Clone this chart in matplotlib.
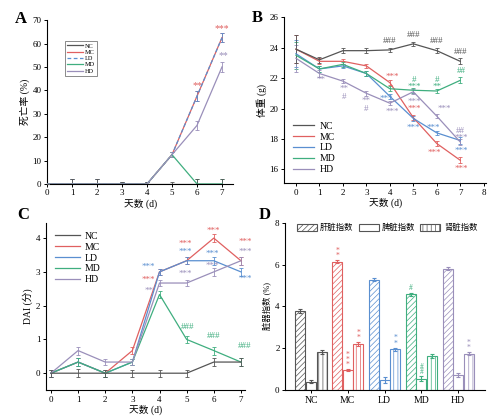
import matplotlib.pyplot as plt
from matplotlib.patches import Patch
from matplotlib.lines import Line2D

plt.rcParams['font.family'] = ['Liberation Serif', 'Noto Sans CJK SC']
plt.rcParams['font.size'] = 6.5
plt.rcParams['axes.linewidth'] = 0.8
plt.rcParams['hatch.linewidth'] = 0.5
plt.rcParams['xtick.major.size'] = 2.5
plt.rcParams['ytick.major.size'] = 2.5

groups = ['NC', 'MC', 'LD', 'MD', 'HD']
colors = {'NC': '#555555', 'MC': '#e06060', 'LD': '#5a8fd0',
          'MD': '#3fae7f', 'HD': '#9a8fba'}
days = [0, 1, 2, 3, 4, 5, 6, 7]

# A: mortality (%)
death_NC = [0, 0, 0, 0, 0, 0, 0, 0]
death_MC = [0, 0, 0, 0, 0, 12.5, 37.5, 62.5]
death_LD = [0, 0, 0, 0, 0, 12.5, 37.5, 62.5]
death_MD = [0, 0, 0, 0, 0, 12.5, 0, 0]
death_HD = [0, 0, 0, 0, 0, 12.5, 25, 50]
death_err = [0, 2, 2, 1, 1, 1, 2, 2]

# B: body weight (g)
weight_NC = [23.9, 23.2, 23.8, 23.8, 23.85, 24.25, 23.8, 23.1]
weight_MC = [23.9, 23.1, 23.1, 22.8, 21.7, 19.4, 17.7, 16.6]
weight_LD = [23.6, 22.6, 22.8, 22.3, 20.8, 19.35, 18.4, 17.9]
weight_MD = [23.5, 22.6, 22.9, 22.3, 21.3, 21.2, 21.15, 21.85]
weight_HD = [23.3, 22.3, 21.8, 21.0, 20.35, 21.1, 19.5, 17.8]
weight_err = [0.9, 0.2, 0.15, 0.15, 0.15, 0.15, 0.15, 0.2]

# C: DAI score
dai_NC = [0, 0, 0, 0, 0, 0, 0.33, 0.33]
dai_MC = [0, 0.33, 0, 0.67, 3.0, 3.33, 4.0, 3.33]
dai_LD = [0, 0.33, 0, 0.33, 3.0, 3.33, 3.33, 3.0]
dai_MD = [0, 0.33, 0, 0.33, 2.33, 1.0, 0.67, 0.33]
dai_HD = [0, 0.67, 0.33, 0.33, 2.67, 2.67, 3.0, 3.33]
dai_err = [0.1, 0.12, 0.1, 0.1, 0.1, 0.1, 0.12, 0.12]

# D: organ index (%)
organ_labels = ['肝脏指数', '脾脏指数', '肾脏指数']
liver_idx = [3.78, 6.15, 5.28, 4.58, 5.80]
spleen_idx = [0.40, 0.95, 0.48, 0.55, 0.72]
kidney_idx = [1.82, 2.22, 1.95, 1.65, 1.75]
liver_err = [0.08, 0.06, 0.08, 0.08, 0.07]
spleen_err = [0.06, 0.06, 0.15, 0.12, 0.08]
kidney_err = [0.08, 0.1, 0.08, 0.1, 0.08]

fig = plt.figure(figsize=(4.9, 4.19), dpi=100)
axA = fig.add_axes([0.096, 0.561, 0.380, 0.391])
axB = fig.add_axes([0.580, 0.563, 0.412, 0.396])
axC = fig.add_axes([0.094, 0.069, 0.406, 0.399])
axD = fig.add_axes([0.582, 0.069, 0.408, 0.399])

for ax in (axA, axB, axC, axD):
    ax.spines['top'].set_visible(False)
    ax.spines['right'].set_visible(False)
    ax.tick_params(labelsize=6.5, width=0.7, pad=1.5)


def draw_series(ax, series, err, styles=None):
    for g in ['MC', 'LD', 'MD', 'HD', 'NC']:
        ls = (styles or {}).get(g, '-')
        ax.errorbar(days, series[g], yerr=err, color=colors[g], lw=0.9,
                    ls=ls, elinewidth=0.6, capsize=1.5, capthick=0.6, zorder=3)


def line_handles(styles=None):
    return [Line2D([], [], color=colors[g], lw=0.9,
                   ls=(styles or {}).get(g, '-')) for g in groups]


def stars(ax, notes, size=6):
    for x, y, t, g in notes:
        ax.text(x, y, t, color=colors[g], fontsize=size, ha='center',
                va='center', clip_on=False, zorder=5)


# ---- A
a_styles = {'LD': (0, (3, 2))}
draw_series(axA, {'NC': death_NC, 'MC': death_MC, 'LD': death_LD,
                  'MD': death_MD, 'HD': death_HD}, death_err, a_styles)
axA.set_xlim(0, 7.45)
axA.set_ylim(0, 70)
axA.set_xticks(days)
axA.set_yticks(range(0, 71, 10))
axA.set_xlabel('天数 (d)', fontsize=7, labelpad=1)
axA.set_ylabel('死亡率 (%)', fontsize=7, labelpad=2)
legA = axA.legend(line_handles(a_styles), groups, loc='upper left',
                  bbox_to_anchor=(0.08, 0.89), fontsize=4.5, handlelength=2.6,
                  labelspacing=0.15, borderpad=0.3, fancybox=False,
                  edgecolor='#777777', framealpha=1, handletextpad=0.3)
legA.get_frame().set_linewidth(0.6)
stars(axA, [(6, 42, '**', 'MC'), (7, 66.5, '***', 'MC'), (7.05, 55, '**', 'HD')], 7)

# ---- B
draw_series(axB, {'NC': weight_NC, 'MC': weight_MC, 'LD': weight_LD,
                  'MD': weight_MD, 'HD': weight_HD}, weight_err)
axB.set_xlim(-0.5, 8.1)
axB.set_ylim(15.1, 26)
axB.set_xticks(range(0, 9))
axB.set_yticks(range(16, 27, 2))
axB.set_xlabel('天数 (d)', fontsize=7, labelpad=1)
axB.set_ylabel('体重 (g)', fontsize=7, labelpad=2)
axB.legend(line_handles(), groups, loc='lower left',
           bbox_to_anchor=(0.0, 0.0), fontsize=7, frameon=False,
           handlelength=2.2, labelspacing=0.2, handletextpad=0.5)
stars(axB, [
    (4, 24.45, '###', 'NC'), (5, 24.85, '###', 'NC'), (6, 24.45, '###', 'NC'),
    (7, 23.7, '###', 'NC'),
    (1.05, 21.9, '**', 'HD'), (2.05, 21.3, '**', 'HD'), (2.05, 20.75, '#', 'HD'),
    (3.0, 20.5, '**', 'HD'), (3.0, 19.95, '#', 'HD'),
    (4.1, 22.05, '***', 'MC'), (3.85, 20.6, '***', 'LD'), (4.1, 19.8, '***', 'HD'),
    (5.05, 21.9, '#', 'MD'), (5.05, 21.45, '***', 'MD'), (5.05, 20.45, '***', 'HD'),
    (5.05, 19.95, '***', 'MC'), (5.0, 18.7, '***', 'LD'),
    (6.0, 21.9, '#', 'MD'), (6.0, 21.45, '**', 'MD'), (6.3, 19.95, '***', 'HD'),
    (5.85, 18.7, '***', 'LD'), (5.9, 17.1, '***', 'MC'),
    (7.05, 22.45, '##', 'MD'), (7.0, 18.55, '##', 'HD'), (7.05, 18.1, '***', 'HD'),
    (7.05, 17.2, '***', 'LD'), (7.05, 16.05, '***', 'MC'),
], 6.5)

# ---- C
draw_series(axC, {'NC': dai_NC, 'MC': dai_MC, 'LD': dai_LD,
                  'MD': dai_MD, 'HD': dai_HD}, dai_err)
axC.set_xlim(-0.18, 7.15)
axC.set_ylim(-0.5, 4.45)
axC.set_xticks(days)
axC.set_yticks(range(0, 5))
axC.set_xlabel('天数 (d)', fontsize=7, labelpad=1)
axC.set_ylabel('DAI (分)', fontsize=7, labelpad=2)
axC.legend(line_handles(), groups, loc='upper left',
           bbox_to_anchor=(0.0, 1.0), fontsize=7, frameon=False,
           handlelength=2.6, labelspacing=0.2, handletextpad=0.5)
stars(axC, [
    (3.57, 3.14, '***', 'LD'), (3.57, 2.75, '***', 'MC'), (3.6, 2.45, '**', 'HD'),
    (4.95, 3.83, '***', 'MC'), (4.95, 3.6, '***', 'LD'), (4.95, 2.93, '***', 'HD'),
    (5.05, 1.36, '###', 'MD'),
    (6.0, 4.2, '***', 'MC'), (5.95, 3.53, '***', 'LD'), (5.95, 3.18, '***', 'HD'),
    (6.0, 1.09, '###', 'MD'),
    (7.15, 3.9, '***', 'MC'), (7.15, 3.6, '***', 'HD'), (7.15, 2.8, '***', 'LD'),
    (7.15, 0.81, '###', 'MD'),
], 6.5)

# ---- D
w = 0.27
off = 0.29
for i, g in enumerate(groups):
    c = colors[g]
    ekw = dict(ecolor=c, elinewidth=0.8, capsize=1.5, capthick=0.8)
    axD.bar(i - off, liver_idx[i], w, color='white', edgecolor=c, hatch='//////',
            lw=0.8, yerr=liver_err[i], error_kw=ekw)
    axD.bar(i, spleen_idx[i], w, color='white', edgecolor=c, lw=0.8,
            yerr=spleen_err[i], error_kw=ekw)
    axD.bar(i + off, kidney_idx[i], w, color='white', edgecolor=c, hatch='||||',
            lw=0.8, yerr=kidney_err[i], error_kw=ekw)
axD.set_xlim(-0.7, 4.73)
axD.set_ylim(0, 8)
axD.set_xticks(range(len(groups)))
axD.set_xticklabels(groups, fontsize=7)
axD.set_yticks(range(0, 9, 2))
axD.set_ylabel('脏器指数 (%)', fontsize=6, labelpad=2)
handles = [Patch(facecolor='white', edgecolor='#555555', hatch='//////', lw=0.8),
           Patch(facecolor='white', edgecolor='#555555', lw=0.8),
           Patch(facecolor='white', edgecolor='#555555', hatch='||||', lw=0.8)]
axD.legend(handles, organ_labels, loc='upper left', bbox_to_anchor=(0.02, 1.04),
           ncol=3, fontsize=6, frameon=False, handlelength=2.4,
           handleheight=1.0, columnspacing=0.6, handletextpad=0.4)
for x, y, t, g in [(1 - off, 6.55, '*\n*', 'MC'), (1, 1.45, '*\n*\n*', 'MC'),
                   (1 + off, 2.62, '*\n*', 'MC'), (2 + off, 2.35, '*\n*', 'LD'),
                   (3 - off, 4.9, '#', 'MD'), (3, 1.0, '#\n#', 'MD'),
                   (4 + off, 2.15, '*\n*', 'HD')]:
    axD.text(x, y, t, color=colors[g], fontsize=5.5, ha='center', va='center',
             linespacing=0.55)

for x, y, s in [(0.03, 0.955, 'A'), (0.514, 0.958, 'B'),
                (0.035, 0.488, 'C'), (0.527, 0.488, 'D')]:
    fig.text(x, y, s, fontsize=12, fontweight='bold', ha='left', va='center')

fig.savefig('out.png', dpi=100)
